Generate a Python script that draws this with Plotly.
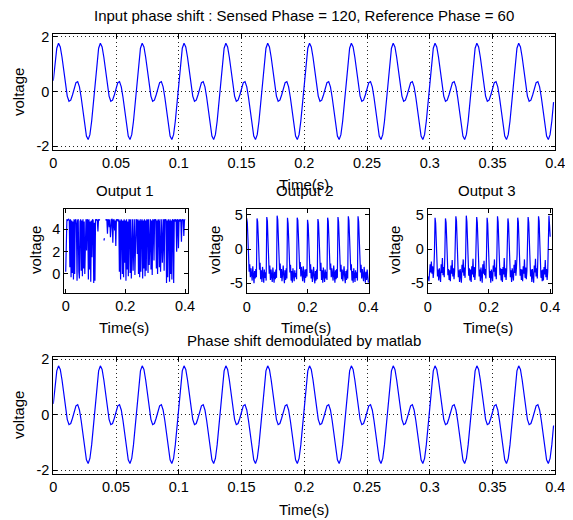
import numpy as np
import plotly.graph_objects as go

# Target picture size in px; the page body keeps an 8 px margin,
# so the figure is drawn 8 px smaller and positions are shifted.
W, H = 573, 520
PAD = 8
FW, FH = W - PAD, H - PAD

# input signal, sampled at 720 Hz (one row = one 30 Hz cycle)
input_v = [
    0.39, 1.09, 1.58, 1.76, 1.63, 1.25, 0.73, 0.22, -0.17, -0.36, -0.32, -0.13, 0.13, 0.32, 0.36, 0.17, -0.22, -0.73, -1.25, -1.63, -1.76, -1.58, -1.09, -0.39,
    0.39, 1.09, 1.58, 1.76, 1.63, 1.25, 0.73, 0.22, -0.17, -0.36, -0.32, -0.13, 0.13, 0.32, 0.36, 0.17, -0.22, -0.73, -1.25, -1.63, -1.76, -1.58, -1.09, -0.39,
    0.39, 1.09, 1.58, 1.76, 1.63, 1.25, 0.73, 0.22, -0.17, -0.36, -0.32, -0.13, 0.13, 0.32, 0.36, 0.17, -0.22, -0.73, -1.25, -1.63, -1.76, -1.58, -1.09, -0.39,
    0.39, 1.09, 1.58, 1.76, 1.63, 1.25, 0.73, 0.22, -0.17, -0.36, -0.32, -0.13, 0.13, 0.32, 0.36, 0.17, -0.22, -0.73, -1.25, -1.63, -1.76, -1.58, -1.09, -0.39,
    0.39, 1.09, 1.58, 1.76, 1.63, 1.25, 0.73, 0.22, -0.17, -0.36, -0.32, -0.13, 0.13, 0.32, 0.36, 0.17, -0.22, -0.73, -1.25, -1.63, -1.76, -1.58, -1.09, -0.39,
    0.39, 1.09, 1.58, 1.76, 1.63, 1.25, 0.73, 0.22, -0.17, -0.36, -0.32, -0.13, 0.13, 0.32, 0.36, 0.17, -0.22, -0.73, -1.25, -1.63, -1.76, -1.58, -1.09, -0.39,
    0.39, 1.09, 1.58, 1.76, 1.63, 1.25, 0.73, 0.22, -0.17, -0.36, -0.32, -0.13, 0.13, 0.32, 0.36, 0.17, -0.22, -0.73, -1.25, -1.63, -1.76, -1.58, -1.09, -0.39,
    0.39, 1.09, 1.58, 1.76, 1.63, 1.25, 0.73, 0.22, -0.17, -0.36, -0.32, -0.13, 0.13, 0.32, 0.36, 0.17, -0.22, -0.73, -1.25, -1.63, -1.76, -1.58, -1.09, -0.39,
    0.39, 1.09, 1.58, 1.76, 1.63, 1.25, 0.73, 0.22, -0.17, -0.36, -0.32, -0.13, 0.13, 0.32, 0.36, 0.17, -0.22, -0.73, -1.25, -1.63, -1.76, -1.58, -1.09, -0.39,
    0.39, 1.09, 1.58, 1.76, 1.63, 1.25, 0.73, 0.22, -0.17, -0.36, -0.32, -0.13, 0.13, 0.32, 0.36, 0.17, -0.22, -0.73, -1.25, -1.63, -1.76, -1.58, -1.09, -0.39,
    0.39, 1.09, 1.58, 1.76, 1.63, 1.25, 0.73, 0.22, -0.17, -0.36, -0.32, -0.13, 0.13, 0.32, 0.36, 0.17, -0.22, -0.73, -1.25, -1.63, -1.76, -1.58, -1.09, -0.39,
    0.39, 1.09, 1.58, 1.76, 1.63, 1.25, 0.73, 0.22, -0.17, -0.36, -0.32, -0.13, 0.13, 0.32, 0.36, 0.17, -0.22, -0.73, -1.25, -1.63, -1.76, -1.58, -1.09, -0.39,
]
# demodulated output is the same waveform as the input
demod_v = list(input_v)
fs_main = 720.0

# outputs, sampled every 2 ms
out1_v = [
    0.2, 4.6, 4.9, 4.8, 4.9, 4.9, 4.8, 0.6, 4.9, -0.3,
    4.8, 0.1, 4.7, -0.5, 4.9, 0.0, 4.8, 4.9, 4.5, -0.6,
    4.8, 4.9, 0.2, -0.4, 4.7, 4.9, 0.3, 4.8, -0.2, 4.9,
    0.5, 4.7, 0.0, 4.8, 4.9, 2.1, 4.9, 4.8, -0.5, 4.9,
    0.4, 4.7, -0.7, 4.8, 1.5, 4.9, 4.8, -0.8, 4.6, -0.6,
    4.9, 4.8, 4.9, 4.8, 3.8, 4.9, 4.8, 4.9, None, None,
    None, None, None, None, 3.0, 3.2, None, 4.9, 4.8, 4.9,
    3.6, 4.9, 4.8, 4.2, 4.9, 3.3, 4.8, 4.9, 4.9, 2.8,
    4.8, 4.9, 3.9, 4.8, 2.5, 4.9, 4.8, 4.9, 4.7, 4.9,
    0.2, 4.8, -0.5, 4.9, 4.7, 0.0, 4.8, -0.3, 4.9, 1.0,
    4.8, -0.6, 4.9, 0.4, 4.7, -0.2, 4.9, 4.8, 0.1, 4.9,
    -0.4, 4.8, 4.9, 0.3, 4.8, 4.9, -0.1, 4.8, 4.9, 4.8,
    1.8, 4.9, 0.0, 4.8, -0.3, 4.9, 0.2, 4.7, 4.9, -0.4,
    4.8, 0.5, 4.9, -0.2, 4.8, 0.3, 4.9, 4.8, 0.1, 4.9,
    0.8, 4.7, 4.9, 0.4, 4.8, -0.1, 4.9, 4.8, 1.2, 4.9,
    4.8, 4.9, 0.5, 4.8, 0.0, 4.9, 4.7, 0.6, 4.9, 0.2,
    4.8, 4.9, 1.0, 4.8, 4.9, 0.3, 4.9, 4.8, 4.9, -0.8,
    4.8, -0.3, 4.9, 4.7, -0.7, 4.9, 0.0, 4.8, -0.5, 4.9,
    4.8, -0.8, 4.9, 4.7, 4.9, 4.8, 2.0, 4.9, 4.8, 2.3,
    4.9, 4.7, 4.9, 4.8, 2.9, 4.9, 4.8, 4.9, 3.4, 4.8,
    4.9,
]

out2_v = [
    4.5, 3.9, 1.6, -1.7, -3.3, -2.2, -4.1, -2.8, -3.9, -4.6, -2.5, -3.7, -5.0, -3.2, -4.3, -2.9, -4.1,
    4.5, 4.0, 1.9, -1.4, -3.0, -2.0, -4.4, -3.1, -4.8, -2.6, -3.8, -4.9, -3.0, -4.2, -3.4, -4.6,
    4.7, 4.1, 1.3, -2.0, -3.6, -2.4, -4.5, -3.0, -4.0, -4.8, -2.7, -3.5, -4.9, -3.3, -4.4, -3.0, -4.2,
    4.9, 4.3, 1.8, -1.5, -3.1, -2.1, -4.2, -2.9, -4.7, -3.6, -2.4, -4.0, -5.0, -3.1, -4.5, -2.8, -4.3,
    4.6, 3.8, 1.5, -1.8, -3.4, -2.3, -4.6, -3.2, -4.9, -2.8, -3.9, -4.7, -3.1, -4.1, -3.5, -4.4,
    4.6, 4.2, 2.0, -1.2, -2.9, -1.9, -4.0, -2.6, -3.8, -4.7, -2.5, -3.6, -4.9, -3.0, -4.2, -2.9, -4.0,
    4.3, 3.6, 1.4, -1.9, -3.5, -2.2, -4.3, -3.0, -4.8, -3.7, -2.6, -4.1, -5.0, -3.2, -4.6, -3.0, -4.4,
    4.4, 3.9, 1.7, -1.6, -3.2, -2.0, -4.5, -3.1, -4.9, -2.7, -3.8, -4.8, -3.0, -4.3, -3.3, -4.5,
    4.6, 4.1, 1.9, -1.4, -3.0, -2.1, -4.1, -2.8, -3.9, -4.6, -2.4, -3.5, -4.9, -3.1, -4.4, -2.9, -4.2,
    4.7, 4.0, 1.6, -1.7, -3.3, -2.3, -4.4, -3.0, -4.7, -3.6, -2.5, -4.0, -5.0, -3.2, -4.5, -3.0, -4.3,
    4.8, 4.2, 1.8, -1.5, -3.1, -2.2, -4.6, -3.2, -4.9, -2.8, -3.9, -4.8, -3.1, -4.2, -3.4, -4.6,
    4.8, 4.0, 1.5, -1.8, -3.4, -2.3, -4.3, -2.9, -4.0, -4.7, -2.6, -3.7, -4.9, -3.3, -4.5, -3.0, -4.6,
    -4.9,
]

out3_v = [
    -4.4, -4.0, -4.7, -3.0, -2.2, -3.4, -1.8, -3.6, -2.5, -4.2, -3.1, -0.5,
    4.6, 3.8, 1.2, -2.6, -4.0, -3.0, -4.6, -2.8, -3.9, -4.8, -2.2, -3.5, -1.3, -3.8, -2.6, -4.1, -0.8,
    4.5, 3.9, 1.5, -2.3, -3.8, -2.9, -4.5, -3.1, -4.7, -2.4, -3.6, -1.6, -4.0, -2.8, -4.4, -3.2, -0.4,
    4.8, 4.1, 1.1, -2.7, -4.1, -3.1, -4.8, -2.9, -3.7, -4.9, -2.3, -3.4, -1.5, -3.9, -2.7, -4.2, -1.0,
    4.9, 4.0, 1.4, -2.4, -3.9, -2.8, -4.6, -3.0, -4.8, -2.5, -3.7, -1.4, -4.1, -2.6, -4.5, -3.3, -0.6,
    4.7, 3.9, 1.0, -2.5, -4.0, -3.0, -4.7, -2.7, -3.8, -4.9, -2.2, -3.6, -1.7, -3.8, -2.9, -4.3, -0.9,
    4.6, 3.7, 0.9, -2.8, -4.2, -3.2, -4.9, -3.0, -3.6, -4.7, -2.4, -3.3, -1.5, -4.0, -2.7, -4.4, -0.7,
    4.8, 4.0, 1.3, -2.4, -3.8, -2.8, -4.6, -2.9, -4.8, -2.6, -3.7, -1.3, -4.1, -2.8, -4.5, -3.1, -0.5,
    4.5, 3.8, 1.1, -2.6, -4.1, -3.1, -4.8, -2.8, -3.9, -4.6, -2.3, -3.5, -1.6, -3.9, -2.6, -0.8,
    4.6, 4.0, 1.4, -2.3, -3.9, -2.9, -4.5, -3.0, -4.7, -2.5, -3.6, -1.5, -4.2, -2.7, -4.4, -3.2, -0.6,
    4.7, 3.9, 1.0, -2.7, -4.0, -3.0, -4.8, -2.9, -3.8, -4.9, -2.4, -3.4, -1.4, -4.0, -2.8, -4.3, -0.9,
    4.8, 4.1, 1.2, -2.5, -4.2, -3.1, -4.7, -3.0, -4.6, -2.6, -3.7, -1.6, -4.1, -2.9, -4.5, -3.3, -0.4,
    4.9, 3.5, 1.8,
]
dt_out = 0.002

# tick labels
main_ticks = [0, 0.05, 0.1, 0.15, 0.2, 0.25, 0.3, 0.35, 0.4]
main_tick_text = ["0", "0.05", "0.1", "0.15", "0.2", "0.25", "0.3", "0.35", "0.4"]
small_ticks = [0, 0.2, 0.4]
small_tick_text = ["0", "0.2", "0.4"]

FONT = "Liberation Sans, Arial, sans-serif"
BLUE = "#0000ff"


def fx(px):
    # screen px -> paper fraction
    return (px - PAD) / FW


def fy(py):
    return 1 - (py - PAD) / FH


t_main = np.arange(len(input_v)) / fs_main
t_out1 = np.arange(len(out1_v)) * dt_out
t_out2 = np.arange(len(out2_v)) * dt_out
t_out3 = np.arange(len(out3_v)) * dt_out

fig = go.Figure()
line = dict(color=BLUE, width=1.2)
fig.add_trace(go.Scatter(x=t_main, y=input_v, mode="lines", line=line, xaxis="x", yaxis="y"))
fig.add_trace(go.Scatter(x=t_out1, y=out1_v, mode="lines", line=line, xaxis="x2", yaxis="y2",
                         connectgaps=False))
fig.add_trace(go.Scatter(x=t_out2, y=out2_v, mode="lines", line=line, xaxis="x3", yaxis="y3"))
fig.add_trace(go.Scatter(x=t_out3, y=out3_v, mode="lines", line=line, xaxis="x4", yaxis="y4"))
fig.add_trace(go.Scatter(x=t_main, y=demod_v, mode="lines", line=line, xaxis="x5", yaxis="y5"))

axis_common = dict(
    showline=True, linecolor="black", linewidth=1, mirror="ticks",
    ticks="inside", ticklen=4, tickcolor="black", zeroline=False, automargin=False,
    tickfont=dict(family=FONT, size=14.5, color="black"),
)
grid_on = dict(showgrid=True, gridcolor="#222222", gridwidth=1, griddash="1px,3px")
grid_off = dict(showgrid=False)

layout = dict(
    template="none",
    width=FW, height=FH, autosize=False,
    margin=dict(l=0, r=0, t=0, b=0, pad=0),
    paper_bgcolor="white", plot_bgcolor="white",
    showlegend=False,
    font=dict(family=FONT, size=15, color="black"),
)

# top: input
layout["xaxis"] = dict(axis_common, **grid_on, domain=[fx(53.3), fx(555.3)], range=[0, 0.4],
                       tickvals=main_ticks, ticktext=main_tick_text, anchor="y")
layout["yaxis"] = dict(axis_common, **grid_on, domain=[fy(149.7), fy(34.3)], range=[-2.13, 2.09],
                       tickvals=[-2, 0, 2], ticktext=["-2", "0", "2"], anchor="x")
# middle row
layout["xaxis2"] = dict(axis_common, **grid_off, domain=[fx(64.3), fx(188)], range=[-0.0047, 0.41],
                        tickvals=small_ticks, ticktext=small_tick_text, anchor="y2")
layout["yaxis2"] = dict(axis_common, **grid_off, domain=[fy(292.5), fy(208.5)], range=[-1.66, 5.87],
                        tickvals=[0, 2, 4], ticktext=["0", "2", "4"], anchor="x2")
layout["xaxis3"] = dict(axis_common, **grid_off, domain=[fx(246.7), fx(369.3)], range=[0, 0.403],
                        tickvals=small_ticks, ticktext=small_tick_text, anchor="y3")
layout["yaxis3"] = dict(axis_common, **grid_off, domain=[fy(293.3), fy(209.3)], range=[-6.46, 5.83],
                        tickvals=[-5, 0, 5], ticktext=["-5", "0", "5"], anchor="x3")
layout["xaxis4"] = dict(axis_common, **grid_off, domain=[fx(427.7), fx(551.7)], range=[0, 0.405],
                        tickvals=small_ticks, ticktext=small_tick_text, anchor="y4")
layout["yaxis4"] = dict(axis_common, **grid_off, domain=[fy(293.3), fy(209.3)], range=[-6.46, 5.83],
                        tickvals=[-5, 0, 5], ticktext=["-5", "0", "5"], anchor="x4")
# bottom: demodulated
layout["xaxis5"] = dict(axis_common, **grid_on, domain=[fx(53.3), fx(555.3)], range=[0, 0.4],
                        tickvals=main_ticks, ticktext=main_tick_text, anchor="y5")
layout["yaxis5"] = dict(axis_common, **grid_on, domain=[fy(474), fy(356.7)], range=[-2.14, 2.09],
                        tickvals=[-2, 0, 2], ticktext=["-2", "0", "2"], anchor="x5")

fig.update_layout(**layout)


def label(text, px, py, angle=0):
    fig.add_annotation(text=text, x=fx(px), y=fy(py), xref="paper", yref="paper",
                       showarrow=False, textangle=angle, xanchor="center", yanchor="middle",
                       font=dict(family=FONT, size=15, color="black"))


# titles
label("Input phase shift : Sensed Phase = 120, Reference Phase = 60", 304, 15)
label("Output 1", 125, 190)
label("Output 2", 305, 190)
label("Output 3", 487, 190)
label("Phase shift demodulated by matlab", 304, 340)

# x labels (the top one overlaps "Output 2", as in the original)
label("Time(s)", 304, 184)
label("Time(s)", 124, 327)
label("Time(s)", 306, 327)
label("Time(s)", 488, 327)
label("Time(s)", 304, 509)

# y labels
label("voltage", 18, 92, -90)
label("voltage", 35, 250, -90)
label("voltage", 214, 250, -90)
label("voltage", 394, 250, -90)
label("voltage", 18, 415, -90)

fig.write_html("out.html")
